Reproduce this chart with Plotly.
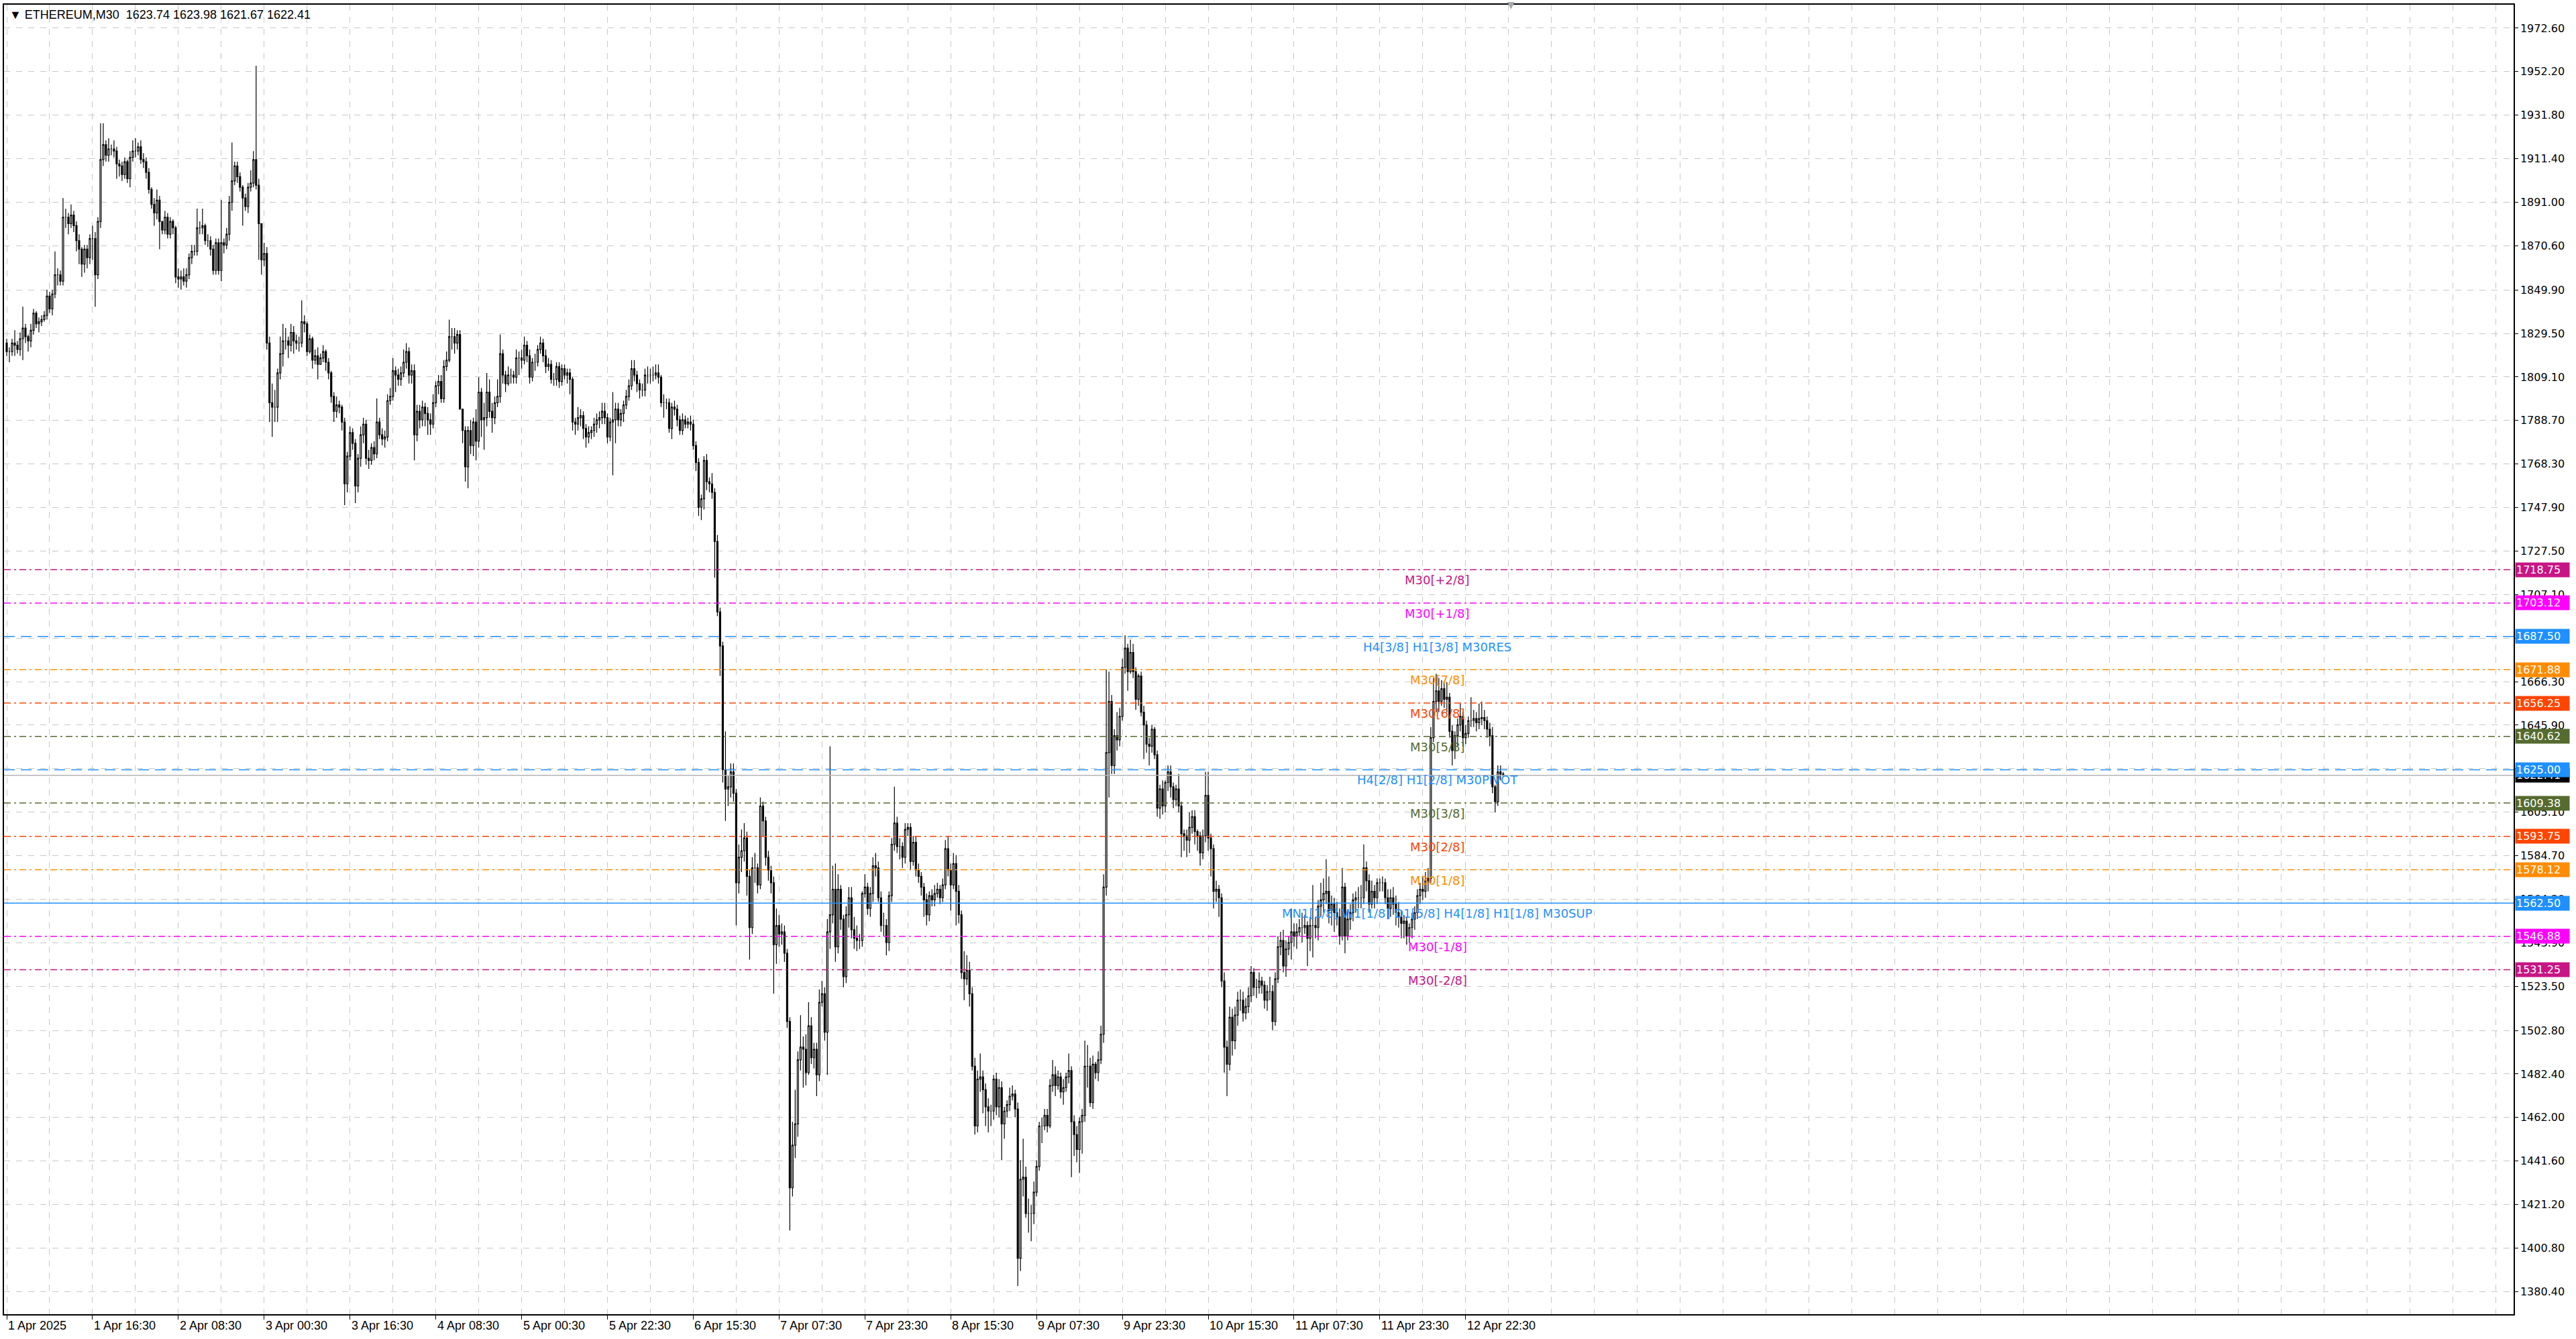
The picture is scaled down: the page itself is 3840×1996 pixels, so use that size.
import plotly.graph_objects as go

# ETHEREUM M30 candles (open = previous close)
first_open = 1825
closes = [
    1821, 1821, 1825, 1824, 1822, 1827, 1832, 1828, 1826, 1831,
    1839, 1834, 1835, 1836, 1838, 1847, 1841, 1848, 1857, 1857,
    1854, 1884, 1884, 1881, 1885, 1880, 1873, 1869, 1862, 1869,
    1865, 1874, 1874, 1857, 1882, 1911, 1918, 1913, 1916, 1916,
    1915, 1909, 1908, 1904, 1910, 1902, 1912, 1915, 1915, 1917,
    1911, 1910, 1905, 1897, 1890, 1886, 1892, 1882, 1878, 1884,
    1876, 1882, 1879, 1856, 1855, 1856, 1854, 1857, 1865, 1868,
    1868, 1879, 1879, 1880, 1873, 1873, 1869, 1859, 1872, 1859,
    1872, 1871, 1876, 1891, 1901, 1908, 1903, 1898, 1893, 1889,
    1898, 1900, 1911, 1899, 1881, 1864, 1867, 1825, 1797, 1795,
    1795, 1811, 1820, 1826, 1826, 1824, 1830, 1826, 1825, 1825,
    1835, 1834, 1821, 1827, 1817, 1819, 1815, 1818, 1821, 1816,
    1811, 1800, 1793, 1796, 1795, 1788, 1759, 1772, 1783, 1778,
    1758, 1771, 1782, 1787, 1771, 1770, 1776, 1773, 1788, 1782,
    1780, 1781, 1798, 1800, 1812, 1810, 1808, 1811, 1816, 1821,
    1810, 1812, 1782, 1793, 1789, 1795, 1792, 1789, 1787, 1797,
    1805, 1807, 1799, 1814, 1817, 1828, 1828, 1825, 1829, 1794,
    1784, 1767, 1784, 1777, 1788, 1779, 1802, 1789, 1790, 1802,
    1793, 1790, 1797, 1800, 1820, 1810, 1806, 1810, 1810, 1809,
    1818, 1818, 1817, 1824, 1819, 1809, 1816, 1816, 1822, 1825,
    1819, 1814, 1815, 1808, 1808, 1814, 1807, 1813, 1810, 1811,
    1808, 1788, 1787, 1790, 1791, 1785, 1781, 1783, 1784, 1787,
    1789, 1790, 1793, 1790, 1781, 1788, 1789, 1794, 1789, 1792,
    1796, 1800, 1805, 1813, 1810, 1806, 1803, 1803, 1810, 1810,
    1810, 1810, 1811, 1809, 1797, 1797, 1797, 1785, 1795, 1794,
    1789, 1784, 1789, 1787, 1788, 1787, 1777, 1769, 1748, 1752,
    1770, 1760, 1759, 1755, 1732, 1699, 1683, 1625, 1616, 1617,
    1624, 1614, 1572, 1584, 1587, 1593, 1575, 1551, 1579, 1579,
    1571, 1608, 1601, 1584, 1578, 1572, 1543, 1552, 1548, 1549,
    1539, 1507, 1429, 1449, 1459, 1489, 1495, 1494, 1483, 1505,
    1490, 1494, 1482, 1516, 1520, 1502, 1549, 1557, 1569, 1542,
    1569, 1555, 1528, 1557, 1565, 1550, 1546, 1545, 1545, 1567,
    1570, 1560, 1567, 1580, 1579, 1565, 1552, 1552, 1544, 1566,
    1590, 1600, 1589, 1589, 1584, 1597, 1598, 1582, 1591, 1578,
    1575, 1570, 1564, 1557, 1566, 1564, 1567, 1569, 1565, 1571,
    1588, 1578, 1571, 1581, 1568, 1557, 1530, 1527, 1531, 1520,
    1486, 1458, 1480, 1481, 1475, 1467, 1465, 1465, 1480, 1467,
    1476, 1459, 1465, 1468, 1472, 1473, 1466, 1396, 1433, 1434,
    1417, 1417, 1417, 1427, 1439, 1458, 1458, 1463, 1458, 1477,
    1482, 1477, 1481, 1474, 1476, 1481, 1484, 1460, 1454, 1447,
    1460, 1463, 1486, 1486, 1469, 1487, 1483, 1489, 1501, 1570,
    1633, 1657, 1627, 1641, 1639, 1650, 1673, 1682, 1671, 1680,
    1671, 1658, 1669, 1652, 1646, 1637, 1636, 1644, 1632, 1607,
    1616, 1608, 1619, 1624, 1617, 1611, 1616, 1608, 1595, 1594,
    1592, 1598, 1603, 1596, 1594, 1586, 1594, 1613, 1593, 1588,
    1568, 1569, 1565, 1526, 1495, 1487, 1509, 1498, 1510, 1517,
    1517, 1511, 1514, 1519, 1530, 1523, 1523, 1526, 1524, 1517,
    1521, 1521, 1507, 1527, 1542, 1545, 1533, 1541, 1544, 1549,
    1547, 1549, 1551, 1551, 1552, 1546, 1552, 1552, 1551, 1561,
    1564, 1567, 1568, 1559, 1562, 1558, 1556, 1547, 1570, 1547,
    1555, 1558, 1564, 1565, 1565, 1565, 1579, 1573, 1562, 1568,
    1565, 1572, 1572, 1572, 1565, 1560, 1565, 1562, 1558, 1556,
    1553, 1554, 1547, 1551, 1555, 1558, 1566, 1569, 1568, 1573,
    1574, 1640, 1657, 1662, 1657, 1663, 1658, 1659, 1643, 1634,
    1641, 1646, 1650, 1640, 1642, 1648, 1648, 1649, 1647, 1649,
    1649.5, 1648, 1644, 1641, 1617, 1610, 1624, 1623, 1622.41,
]
highs = [
    1827, 1823, 1827, 1831, 1826, 1830, 1842, 1834, 1829, 1834,
    1841, 1840, 1837, 1838, 1840, 1850, 1849, 1850, 1868, 1860,
    1859, 1893, 1888, 1886, 1890, 1887, 1882, 1876, 1870, 1871,
    1871, 1876, 1880, 1877, 1884, 1928, 1928, 1920, 1921, 1918,
    1920, 1917, 1911, 1910, 1912, 1911, 1915, 1920, 1921, 1919,
    1920, 1914, 1912, 1907, 1898, 1893, 1897, 1894, 1882, 1887,
    1886, 1884, 1883, 1880, 1860, 1859, 1860, 1860, 1867, 1871,
    1871, 1888, 1882, 1888, 1881, 1876, 1875, 1871, 1874, 1874,
    1892, 1874, 1879, 1894, 1919, 1910, 1910, 1905, 1899, 1895,
    1900, 1906, 1915, 1955, 1902, 1878, 1872, 1870, 1828, 1806,
    1803, 1813, 1828, 1834, 1832, 1828, 1834, 1833, 1829, 1828,
    1845, 1838, 1835, 1829, 1828, 1822, 1823, 1820, 1824, 1822,
    1818, 1812, 1802, 1800, 1798, 1796, 1790, 1774, 1786, 1785,
    1780, 1773, 1786, 1790, 1789, 1775, 1778, 1779, 1799, 1790,
    1785, 1784, 1801, 1804, 1818, 1814, 1813, 1814, 1822, 1825,
    1823, 1815, 1815, 1796, 1796, 1798, 1797, 1795, 1792, 1801,
    1807, 1810, 1810, 1817, 1821, 1836, 1832, 1832, 1831, 1831,
    1790, 1786, 1786, 1789, 1790, 1794, 1809, 1804, 1797, 1811,
    1808, 1797, 1800, 1808, 1829, 1822, 1812, 1814, 1813, 1812,
    1822, 1821, 1822, 1828, 1826, 1822, 1818, 1820, 1824, 1828,
    1827, 1822, 1818, 1817, 1811, 1816, 1816, 1815, 1815, 1813,
    1813, 1809, 1790, 1795, 1794, 1793, 1787, 1786, 1786, 1790,
    1792, 1793, 1797, 1797, 1792, 1790, 1802, 1797, 1797, 1794,
    1798, 1803, 1808, 1817, 1817, 1812, 1808, 1806, 1813, 1814,
    1813, 1814, 1815, 1815, 1810, 1801, 1799, 1799, 1797, 1798,
    1796, 1791, 1792, 1791, 1790, 1791, 1789, 1779, 1771, 1754,
    1772, 1773, 1762, 1764, 1757, 1735, 1701, 1685, 1643, 1622,
    1628, 1628, 1616, 1590, 1597, 1600, 1596, 1578, 1584, 1586,
    1581, 1612, 1610, 1603, 1587, 1580, 1575, 1560, 1557, 1553,
    1552, 1541, 1509, 1460, 1475, 1493, 1510, 1500, 1501, 1516,
    1509, 1497, 1497, 1522, 1526, 1523, 1555, 1636, 1580, 1581,
    1576, 1571, 1557, 1561, 1570, 1570, 1556, 1552, 1548, 1568,
    1576, 1572, 1570, 1584, 1586, 1582, 1568, 1558, 1555, 1568,
    1593, 1617, 1603, 1593, 1591, 1600, 1600, 1600, 1594, 1594,
    1581, 1577, 1572, 1567, 1568, 1569, 1571, 1572, 1571, 1574,
    1592, 1594, 1581, 1586, 1585, 1571, 1559, 1540, 1538, 1535,
    1523, 1490, 1484, 1492, 1484, 1478, 1471, 1468, 1482, 1483,
    1480, 1479, 1467, 1470, 1476, 1477, 1475, 1469, 1442, 1452,
    1439, 1424, 1421, 1432, 1442, 1460, 1462, 1466, 1466, 1480,
    1489, 1486, 1484, 1483, 1480, 1483, 1492, 1486, 1463, 1458,
    1462, 1466, 1498, 1496, 1490, 1491, 1488, 1493, 1505, 1576,
    1672, 1671, 1660, 1644, 1652, 1654, 1677, 1688, 1684, 1686,
    1684, 1673, 1670, 1671, 1655, 1648, 1640, 1646, 1645, 1634,
    1618, 1620, 1620, 1627, 1627, 1619, 1618, 1623, 1610, 1597,
    1597, 1605, 1606, 1606, 1597, 1596, 1597, 1624, 1624, 1595,
    1590, 1573, 1571, 1567, 1530, 1498, 1514, 1513, 1514, 1521,
    1522, 1521, 1518, 1523, 1533, 1532, 1527, 1530, 1528, 1526,
    1524, 1528, 1524, 1530, 1547, 1549, 1550, 1545, 1547, 1560,
    1553, 1553, 1555, 1558, 1557, 1554, 1556, 1571, 1556, 1564,
    1572, 1574, 1583, 1575, 1566, 1565, 1563, 1560, 1579, 1572,
    1559, 1562, 1567, 1568, 1570, 1571, 1590, 1582, 1576, 1573,
    1571, 1574, 1574, 1575, 1574, 1569, 1569, 1570, 1566, 1563,
    1559, 1557, 1556, 1553, 1558, 1561, 1569, 1572, 1575, 1577,
    1579, 1645, 1668, 1670, 1668, 1667, 1666, 1666, 1661, 1646,
    1643, 1649, 1656, 1652, 1646, 1650, 1659, 1653, 1652, 1656,
    1657, 1653, 1650, 1647, 1645, 1618, 1627, 1627, 1623.98,
]
lows = [
    1819, 1816, 1819, 1819, 1820, 1819, 1817, 1825, 1821, 1823,
    1829, 1832, 1830, 1833, 1835, 1836, 1839, 1838, 1846, 1852,
    1852, 1852, 1879, 1876, 1879, 1877, 1868, 1862, 1856, 1858,
    1860, 1862, 1864, 1842, 1855, 1879, 1908, 1910, 1910, 1913,
    1912, 1902, 1903, 1901, 1902, 1900, 1898, 1910, 1912, 1913,
    1909, 1907, 1902, 1895, 1888, 1880, 1883, 1869, 1876, 1876,
    1874, 1874, 1876, 1853, 1851, 1850, 1852, 1851, 1855, 1862,
    1866, 1866, 1876, 1876, 1871, 1870, 1866, 1857, 1857, 1857,
    1854, 1867, 1869, 1873, 1887, 1899, 1900, 1896, 1880, 1887,
    1886, 1896, 1898, 1897, 1864, 1857, 1861, 1822, 1788, 1781,
    1788, 1788, 1808, 1814, 1822, 1818, 1821, 1820, 1822, 1821,
    1823, 1830, 1819, 1820, 1813, 1815, 1808, 1815, 1816, 1812,
    1808, 1797, 1788, 1790, 1792, 1784, 1749, 1755, 1770, 1775,
    1750, 1755, 1767, 1778, 1768, 1766, 1768, 1770, 1771, 1780,
    1777, 1776, 1779, 1796, 1798, 1802, 1805, 1805, 1809, 1813,
    1806, 1806, 1770, 1779, 1785, 1786, 1786, 1782, 1782, 1785,
    1795, 1801, 1797, 1797, 1812, 1816, 1822, 1820, 1822, 1794,
    1778, 1760, 1757, 1773, 1772, 1770, 1776, 1781, 1775, 1786,
    1790, 1783, 1787, 1795, 1797, 1806, 1802, 1805, 1806, 1806,
    1806, 1810, 1813, 1815, 1816, 1806, 1807, 1812, 1814, 1820,
    1816, 1811, 1812, 1806, 1805, 1805, 1804, 1805, 1808, 1806,
    1801, 1784, 1782, 1784, 1786, 1780, 1776, 1778, 1780, 1781,
    1783, 1785, 1787, 1787, 1778, 1779, 1763, 1778, 1786, 1786,
    1788, 1794, 1798, 1803, 1807, 1802, 1799, 1800, 1800, 1806,
    1806, 1807, 1808, 1806, 1795, 1790, 1794, 1783, 1780, 1791,
    1786, 1782, 1782, 1785, 1785, 1784, 1775, 1765, 1744, 1742,
    1747, 1756, 1755, 1752, 1715, 1697, 1669, 1619, 1601, 1608,
    1612, 1610, 1552, 1567, 1577, 1582, 1566, 1536, 1548, 1572,
    1567, 1569, 1594, 1580, 1573, 1567, 1520, 1534, 1542, 1543,
    1535, 1504, 1409, 1425, 1443, 1453, 1484, 1476, 1477, 1482,
    1487, 1485, 1472, 1479, 1514, 1498, 1482, 1541, 1553, 1535,
    1539, 1550, 1523, 1525, 1551, 1546, 1541, 1540, 1541, 1542,
    1565, 1557, 1556, 1563, 1575, 1563, 1549, 1547, 1538, 1540,
    1563, 1587, 1586, 1583, 1579, 1581, 1594, 1578, 1580, 1575,
    1572, 1566, 1556, 1552, 1554, 1561, 1561, 1565, 1562, 1563,
    1569, 1575, 1559, 1569, 1552, 1553, 1527, 1517, 1524, 1514,
    1484, 1454, 1455, 1474, 1464, 1458, 1455, 1458, 1461, 1463,
    1462, 1442, 1452, 1462, 1465, 1470, 1462, 1383, 1390, 1425,
    1415, 1408, 1404, 1412, 1425, 1437, 1450, 1456, 1455, 1457,
    1474, 1472, 1475, 1471, 1468, 1474, 1478, 1434, 1444, 1441,
    1436, 1445, 1460, 1476, 1467, 1466, 1480, 1479, 1487, 1497,
    1566, 1612, 1623, 1623, 1634, 1636, 1648, 1670, 1662, 1670,
    1668, 1653, 1655, 1650, 1630, 1633, 1627, 1633, 1630, 1603,
    1602, 1604, 1605, 1615, 1612, 1607, 1608, 1605, 1584, 1587,
    1584, 1586, 1595, 1590, 1587, 1580, 1583, 1591, 1587, 1575,
    1560, 1563, 1556, 1523, 1483, 1472, 1484, 1491, 1494, 1505,
    1512, 1507, 1508, 1511, 1516, 1519, 1518, 1520, 1520, 1513,
    1512, 1517, 1503, 1505, 1525, 1538, 1530, 1528, 1538, 1536,
    1542, 1541, 1547, 1544, 1548, 1533, 1540, 1537, 1546, 1545,
    1556, 1558, 1562, 1553, 1552, 1549, 1552, 1543, 1545, 1539,
    1545, 1550, 1554, 1558, 1560, 1560, 1562, 1568, 1558, 1560,
    1560, 1562, 1568, 1568, 1562, 1555, 1556, 1557, 1552, 1551,
    1546, 1546, 1543, 1544, 1546, 1550, 1555, 1562, 1564, 1565,
    1568, 1572, 1638, 1652, 1652, 1655, 1654, 1652, 1640, 1627,
    1630, 1636, 1643, 1636, 1637, 1640, 1645, 1645, 1643, 1644,
    1646, 1644, 1640, 1636, 1614, 1605, 1608, 1620, 1621.67,
]

# time labels every 32 bars
label_bars = [0, 32, 64, 96, 128, 160, 192, 224, 256, 288, 320, 352, 384, 416, 448, 480, 512, 544]
time_labels = ["1 Apr 2025", "1 Apr 16:30", "2 Apr 08:30", "3 Apr 00:30", "3 Apr 16:30",
               "4 Apr 08:30", "5 Apr 00:30", "5 Apr 22:30", "6 Apr 15:30", "7 Apr 07:30",
               "7 Apr 23:30", "8 Apr 15:30", "9 Apr 07:30", "9 Apr 23:30", "10 Apr 15:30",
               "11 Apr 07:30", "11 Apr 23:30", "12 Apr 22:30"]

price_ticks = [1972.60, 1952.20, 1931.80, 1911.40, 1891.00, 1870.60, 1849.90, 1829.50,
               1809.10, 1788.70, 1768.30, 1747.90, 1727.50, 1707.10, 1686.70, 1666.30,
               1645.90, 1625.50, 1605.10, 1584.70, 1564.30, 1543.90, 1523.50, 1502.80,
               1482.40, 1462.00, 1441.60, 1421.20, 1400.80, 1380.40]

# Murrey math levels
level_prices = [1718.75, 1703.12, 1687.50, 1671.88, 1656.25, 1640.62, 1625.00,
                1609.38, 1593.75, 1578.12, 1562.50, 1546.88, 1531.25]
level_names = ["M30[+2/8]", "M30[+1/8]", "H4[3/8] H1[3/8] M30RES", "M30[7/8]", "M30[6/8]",
               "M30[5/8]", "H4[2/8] H1[2/8] M30PIVOT", "M30[3/8]", "M30[2/8]", "M30[1/8]",
               "MN1[1/8] W1[1/8] D1[5/8] H4[1/8] H1[1/8] M30SUP", "M30[-1/8]", "M30[-2/8]"]
level_colors = ["#C71585", "#FF00FF", "#1E90FF", "#FF8C00", "#FF4500", "#556B2F", "#1E90FF",
                "#556B2F", "#FF4500", "#FF8C00", "#1E90FF", "#FF00FF", "#C71585"]
dashdot = "10px,5px,3px,5px"
level_dash = [dashdot, dashdot, "16px,9px", dashdot, dashdot, dashdot, "16px,9px",
              dashdot, dashdot, dashdot, "solid", dashdot, dashdot]

n = min(len(closes), len(highs), len(lows))
closes, highs, lows = closes[:n], highs[:n], lows[:n]
opens = [first_open] + closes[:-1]
highs = [max(h, o, c) for h, o, c in zip(highs, opens, closes)]
lows = [min(l, o, c) for l, o, c in zip(lows, opens, closes)]
bars = list(range(n))

fig = go.Figure()
fig.add_trace(go.Candlestick(
    x=bars, open=opens, high=highs, low=lows, close=closes,
    increasing=dict(line=dict(color="black", width=1.2), fillcolor="white"),
    decreasing=dict(line=dict(color="black", width=1.2), fillcolor="black"),
    whiskerwidth=0, showlegend=False, hoverinfo="skip",
))

shapes = []
for p, col, d in zip(level_prices, level_colors, level_dash):
    shapes.append(dict(type="line", xref="paper", x0=0, x1=1, yref="y", y0=p, y1=p,
                       line=dict(color=col, width=1.5, dash=d), layer="above"))
# bid line
shapes.append(dict(type="line", xref="paper", x0=0, x1=1, yref="y", y0=closes[-1], y1=closes[-1],
                   line=dict(color="#b4b4b4", width=1.5), layer="above"))

annotations = []
label_x = 533.5
for p, name, col in zip(level_prices, level_names, level_colors):
    annotations.append(dict(x=label_x, y=p, xref="x", yref="y", text=name, showarrow=False,
                            xanchor="center", yanchor="top", yshift=-3,
                            font=dict(family="DejaVu Sans", size=18, color=col)))

# bid price box (mostly hidden under the pivot box)
annotations.append(dict(x=1, y=closes[-1], xref="paper", yref="y", text="%.2f" % closes[-1],
                        showarrow=False, xanchor="left", yanchor="middle", xshift=2,
                        bgcolor="black", width=78, align="left", borderpad=1,
                        font=dict(family="DejaVu Sans", size=16, color="white")))
for p, col in zip(level_prices, level_colors):
    annotations.append(dict(x=1, y=p, xref="paper", yref="y", text="%.2f" % p,
                            showarrow=False, xanchor="left", yanchor="middle", xshift=2,
                            bgcolor=col, width=78, align="left", borderpad=1,
                            font=dict(family="DejaVu Sans", size=16, color="white")))

for b, t in zip(label_bars, time_labels):
    annotations.append(dict(x=b, y=0, xref="x", yref="paper", text=t, showarrow=False,
                            xanchor="left", yanchor="top", xshift=0, yshift=-5,
                            font=dict(family="Liberation Sans", size=18, color="black")))

annotations.append(dict(x=0, y=1, xref="paper", yref="paper",
                        text="\u25bc ETHEREUM,M30  %.2f %.2f %.2f %.2f" % (1623.74, 1623.98, 1621.67, closes[-1]),
                        showarrow=False, xanchor="left", yanchor="top", xshift=6, yshift=-3,
                        font=dict(family="Liberation Sans", size=18, color="black")))
# chart shift marker
annotations.append(dict(x=n + 2, y=1, xref="x", yref="paper", text="\u25bc", showarrow=False,
                        xanchor="center", yanchor="middle", yshift=0,
                        font=dict(family="DejaVu Sans", size=14, color="#a8a8a8")))

grid = dict(showgrid=True, gridcolor="#c8c8c8", griddash="dash", gridwidth=1)

fig.update_layout(
    width=3840, height=1996,
    margin=dict(l=4, r=93, t=7, b=37),
    paper_bgcolor="white", plot_bgcolor="white",
    font=dict(family="DejaVu Sans", size=16, color="black"),
    shapes=shapes, annotations=annotations,
    showlegend=False,
    xaxis=dict(range=[-1, 934.75], tickmode="array", tickvals=label_bars,
               showticklabels=False, ticks="outside", ticklen=6, tickcolor="black",
               minor=dict(tick0=0, dtick=16, showgrid=True, gridcolor="#c8c8c8",
                          griddash="dash", ticks=""),
               showline=True, linecolor="black", linewidth=1.5, mirror=True,
               zeroline=False, rangeslider=dict(visible=False), **grid),
    yaxis=dict(side="right", range=[1369.8, 1983.6], tickmode="array", tickvals=price_ticks,
               ticktext=["%.2f" % v for v in price_ticks], ticks="outside", ticklen=5,
               tickcolor="black", tickfont=dict(family="DejaVu Sans", size=16, color="black"),
               showline=True, linecolor="black", linewidth=1.5, mirror=True,
               zeroline=False, **grid),
)

fig.write_html("out.html", config={"displayModeBar": False},
               post_script="document.body.style.margin='0';")
